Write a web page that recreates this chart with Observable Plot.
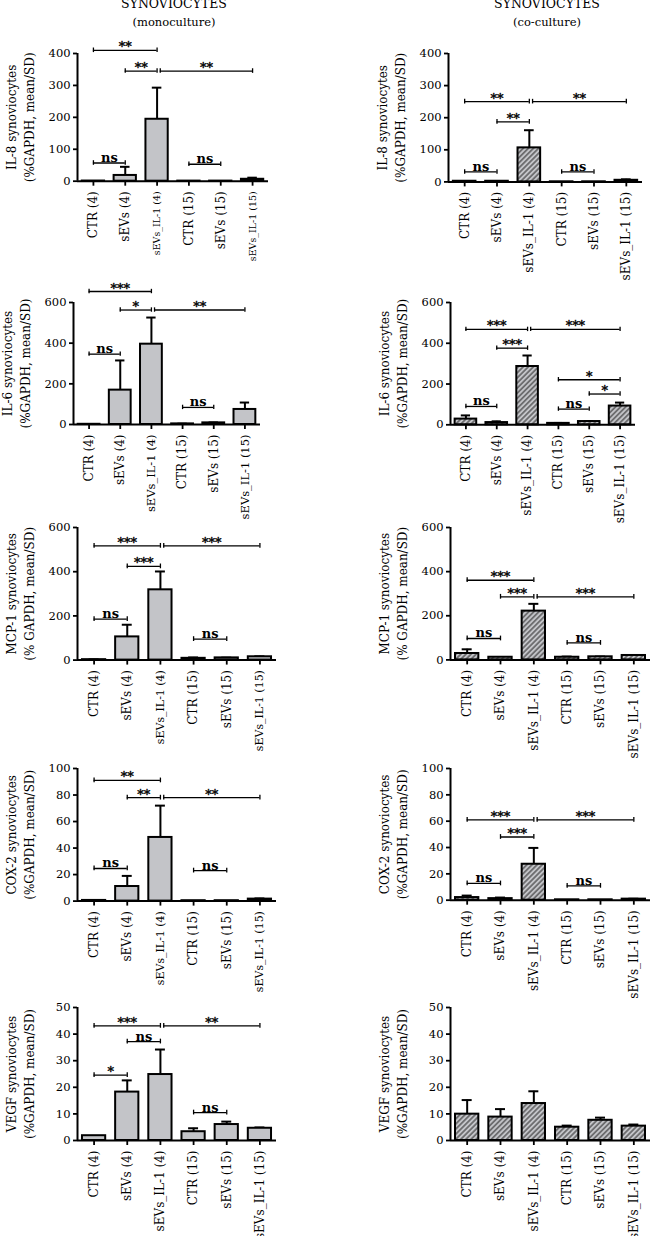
<!DOCTYPE html>
<html><head><meta charset="utf-8">
<script src="https://cdn.jsdelivr.net/npm/d3@7"></script>
<script src="https://cdn.jsdelivr.net/npm/@observablehq/plot@0.6"></script>
<style>
body{margin:0;background:#fff}
#wrap{position:relative;width:651px;height:1236px;overflow:hidden;font-family:"DejaVu Serif",serif;color:#000}
.t{position:absolute;width:240px;text-align:center;white-space:nowrap}
.t1{font-size:12.5px;line-height:14px}
.t2{font-size:11.5px;line-height:14px}
svg{position:absolute}
</style></head>
<body><div id="wrap"></div>
<script>
const categories = ["CTR (4)","sEVs (4)","sEVs_IL-1 (4)","CTR (15)","sEVs (15)","sEVs_IL-1 (15)"];
const columnTitles = [["SYNOVIOCYTES","(monoculture)"],["SYNOVIOCYTES","(co-culture)"]];

// means and SDs (% GAPDH)
const il8MonoMean = [0.5, 18, 194, 0.3, 0.3, 6];
const il8MonoSD   = [0, 27, 99, 0, 0, 5];
const il8CoMean   = [2, 2, 106, 0.3, 0.3, 5];
const il8CoSD     = [0, 0, 55, 0, 0, 3];
const il6MonoMean = [1, 169, 395, 3, 8, 74];
const il6MonoSD   = [0, 146, 131, 1, 2, 34];
const il6CoMean   = [28, 11, 286, 7, 16, 92];
const il6CoSD     = [18, 6, 54, 2, 2, 17];
const mcp1MonoMean = [2, 105, 318, 8, 10, 15];
const mcp1MonoSD   = [1, 55, 83, 4, 1, 2];
const mcp1CoMean   = [29, 12, 221, 12, 14, 20];
const mcp1CoSD     = [19, 1, 33, 3, 1, 2];
const cox2MonoMean = [0.5, 11, 48, 0.3, 0.3, 1.5];
const cox2MonoSD   = [0, 8, 24, 0, 0, 0.5];
const cox2CoMean   = [2, 1.2, 27.3, 0.3, 0.3, 0.8];
const cox2CoSD     = [1.5, 0.8, 12.4, 0, 0, 0.3];
const vegfMonoMean = [1.8, 18.2, 24.8, 3.3, 6.0, 4.6];
const vegfMonoSD   = [0, 4.4, 9.4, 1.3, 1.1, 0.3];
const vegfCoMean   = [9.9, 8.8, 13.9, 5.0, 7.6, 5.4];
const vegfCoSD     = [5.3, 3.0, 4.6, 0.6, 1.0, 0.6];

// significance brackets: [from, to, level, label]
const il8MonoSig = [[0,2,410,"**"],[1,2,345,"**"],[2,5,345,"**"],[0,1,57,"ns"],[3,4,53,"ns"]];
const il8CoSig   = [[0,2,250,"**"],[2,5,250,"**"],[1,2,187,"**"],[0,1,31,"ns"],[3,4,31,"ns"]];
const il6MonoSig = [[0,2,654,"***"],[1,2,563,"*"],[2,5,563,"**"],[0,1,346,"ns"],[3,4,84,"ns"]];
const il6CoSig   = [[0,2,468,"***"],[2,5,468,"***"],[1,2,376,"***"],[3,5,221,"*"],[4,5,151,"*"],[0,1,90,"ns"],[3,4,77,"ns"]];
const mcp1MonoSig = [[0,2,517,"***"],[2,5,517,"***"],[1,2,424,"***"],[0,1,185,"ns"],[3,4,95,"ns"]];
const mcp1CoSig   = [[0,2,361,"***"],[1,2,286,"***"],[2,5,286,"***"],[0,1,97,"ns"],[3,4,77,"ns"]];
const cox2MonoSig = [[0,2,91,"**"],[1,2,78,"**"],[2,5,78,"**"],[0,1,24.6,"ns"],[3,4,23,"ns"]];
const cox2CoSig   = [[0,2,61,"***"],[2,5,61,"***"],[1,2,48,"***"],[0,1,12.7,"ns"],[3,4,10.9,"ns"]];
const vegfMonoSig = [[0,2,43.1,"***"],[2,5,43.1,"**"],[1,2,37.2,"ns"],[0,1,24.6,"*"],[3,4,10.5,"ns"]];
const vegfCoSig   = [];

const yMax  = [400, 600, 600, 100, 50];
const yStep = [100, 200, 200, 20, 10];
const markers = ["IL-8", "IL-6", "MCP-1", "COX-2", "VEGF"];
const units = ["(%GAPDH, mean/SD)", "(%GAPDH, mean/SD)", "(% GAPDH, mean/SD)", "(%GAPDH, mean/SD)", "(%GAPDH, mean/SD)"];

// layout (pixel frame of each panel)
const panels = [
  {col:0,row:0,mean:il8MonoMean,sd:il8MonoSD,sig:il8MonoSig,xl:77,xr:268,yt:53.3,yb:181,ilFont:9.5},
  {col:1,row:0,mean:il8CoMean,sd:il8CoSD,sig:il8CoSig,xl:448,xr:642,yt:53.3,yb:181.7,ilFont:12},
  {col:0,row:1,mean:il6MonoMean,sd:il6MonoSD,sig:il6MonoSig,xl:73,xr:260,yt:301.7,yb:423.7,ilFont:11.5},
  {col:1,row:1,mean:il6CoMean,sd:il6CoSD,sig:il6CoSig,xl:450,xr:635,yt:301.7,yb:424,ilFont:12},
  {col:0,row:2,mean:mcp1MonoMean,sd:mcp1MonoSD,sig:mcp1MonoSig,xl:77,xr:276,yt:526.7,yb:659.3,ilFont:11},
  {col:1,row:2,mean:mcp1CoMean,sd:mcp1CoSD,sig:mcp1CoSig,xl:450,xr:650,yt:527.3,yb:659.7,ilFont:12},
  {col:0,row:3,mean:cox2MonoMean,sd:cox2MonoSD,sig:cox2MonoSig,xl:77,xr:276,yt:767.7,yb:900.3,ilFont:11},
  {col:1,row:3,mean:cox2CoMean,sd:cox2CoSD,sig:cox2CoSig,xl:450,xr:650,yt:768.3,yb:900,ilFont:12},
  {col:0,row:4,mean:vegfMonoMean,sd:vegfMonoSD,sig:vegfMonoSig,xl:77,xr:276,yt:1006.7,yb:1139.7,ilFont:12},
  {col:1,row:4,mean:vegfCoMean,sd:vegfCoSD,sig:vegfCoSig,xl:450,xr:650,yt:1006.7,yb:1139.7,ilFont:12}
];

const wrap = document.getElementById("wrap");
const GRAY = "#c3c4c8";

columnTitles.forEach((t, c) => {
  const cx = c === 0 ? 174 : 547;
  const d1 = document.createElement("div"); d1.className = "t t1"; d1.textContent = t[0];
  d1.style.left = (cx - 120) + "px"; d1.style.top = "-3px"; wrap.appendChild(d1);
  const d2 = document.createElement("div"); d2.className = "t t2"; d2.textContent = t[1];
  d2.style.left = (cx - 120) + "px"; d2.style.top = "15px"; wrap.appendChild(d2);
});

panels.forEach((p, k) => {
  const colLeft = p.col === 0 ? 0 : 325;
  const W = p.col === 0 ? 325 : 326;
  const mt = 45, mb = 95;
  const plotH = p.yb - p.yt;
  const ymax = yMax[p.row], step = yStep[p.row];
  const fill = p.col === 0 ? GRAY : `url(#hatch${k})`;
  const rows = categories.map((c, i) => ({i, c, m: p.mean[i], s: p.sd[i]}));
  const errRows = rows.filter(d => d.s > 0);
  const cap = ymax * 0.018;
  const sig = p.sig.map(([a, b, v, label]) => ({
    x1: a + (a === 2 && b > a ? 0.1 : 0),
    x2: b,
    v, label
  }));
  const ends = sig.flatMap(d => [{x: d.x1, v: d.v}, {x: d.x2, v: d.v}]);
  const normalTicks = [0, 1, 3, 4];
  const ilTicks = [2, 5];
  const svg = Plot.plot({
    width: W,
    height: mt + plotH + mb,
    marginLeft: p.xl - colLeft,
    marginRight: colLeft + W - p.xr,
    marginTop: mt,
    marginBottom: mb,
    x: {type: "linear", domain: [-0.5, 5.5], axis: null},
    y: {domain: [0, ymax], axis: null},
    style: {background: "transparent", overflow: "visible", fontFamily: "'DejaVu Serif', serif", fontSize: "12px", color: "#000"},
    marks: [
      Plot.ruleX(errRows, {x: "i", y1: "m", y2: d => d.m + d.s, stroke: "#000", strokeWidth: 2}),
      Plot.ruleY(errRows, {y: d => d.m + d.s, x1: d => d.i - 0.15, x2: d => d.i + 0.15, stroke: "#000", strokeWidth: 2}),
      Plot.rectY(rows, {x1: d => d.i - 0.35, x2: d => d.i + 0.35, y1: 0, y2: "m", fill, stroke: "#000", strokeWidth: 2}),
      Plot.ruleY([0], {stroke: "#000", strokeWidth: 2}),
      Plot.ruleX([-0.5], {y1: 0, y2: ymax, stroke: "#000", strokeWidth: 2}),
      Plot.axisY({ticks: d3.range(0, ymax + step / 2, step), tickSize: 4, tickPadding: 3, label: null, fontSize: 11.5, strokeWidth: 1.8}),
      Plot.axisX({ticks: normalTicks, tickFormat: i => categories[i], tickRotate: -90, tickSize: 5, tickPadding: 5, label: null, fontSize: 12, strokeWidth: 1.8}),
      Plot.axisX({ticks: ilTicks, tickFormat: i => categories[i], tickRotate: -90, tickSize: 5, tickPadding: 5, label: null, fontSize: p.ilFont, strokeWidth: 1.8}),
      Plot.text([`${markers[p.row]} synoviocytes\n${units[p.row]}`], {frameAnchor: "left", rotate: -90, dx: -58, textAnchor: "middle", lineHeight: 1.5, fontSize: 12}),
      Plot.ruleY(sig, {y: "v", x1: "x1", x2: "x2", stroke: "#000", strokeWidth: 1.3}),
      Plot.ruleX(ends, {x: "x", y1: d => d.v - cap, y2: d => d.v + cap, stroke: "#000", strokeWidth: 1.3}),
      Plot.text(sig.filter(d => d.label === "ns"), {x: d => (d.x1 + d.x2) / 2, y: "v", text: "label", lineAnchor: "bottom", dy: -1, fontSize: 13, fontWeight: "bold", fill: "#000"}),
      Plot.text(sig.filter(d => d.label !== "ns"), {x: d => (d.x1 + d.x2) / 2, y: "v", text: "label", lineAnchor: "bottom", dy: 1, fontSize: 13, fill: "#000", stroke: "#000", strokeWidth: 0.4})
    ]
  });
  svg.insertAdjacentHTML("afterbegin",
    `<defs><pattern id="hatch${k}" patternUnits="userSpaceOnUse" width="3.6" height="3.6" patternTransform="rotate(45)">` +
    `<rect width="3.6" height="3.6" fill="${GRAY}"/><line x1="1.8" y1="0" x2="1.8" y2="3.6" stroke="#000" stroke-width="0.8"/></pattern></defs>`);
  svg.style.left = colLeft + "px";
  svg.style.top = (p.yt - mt) + "px";
  wrap.appendChild(svg);
});
</script>
</body></html>
